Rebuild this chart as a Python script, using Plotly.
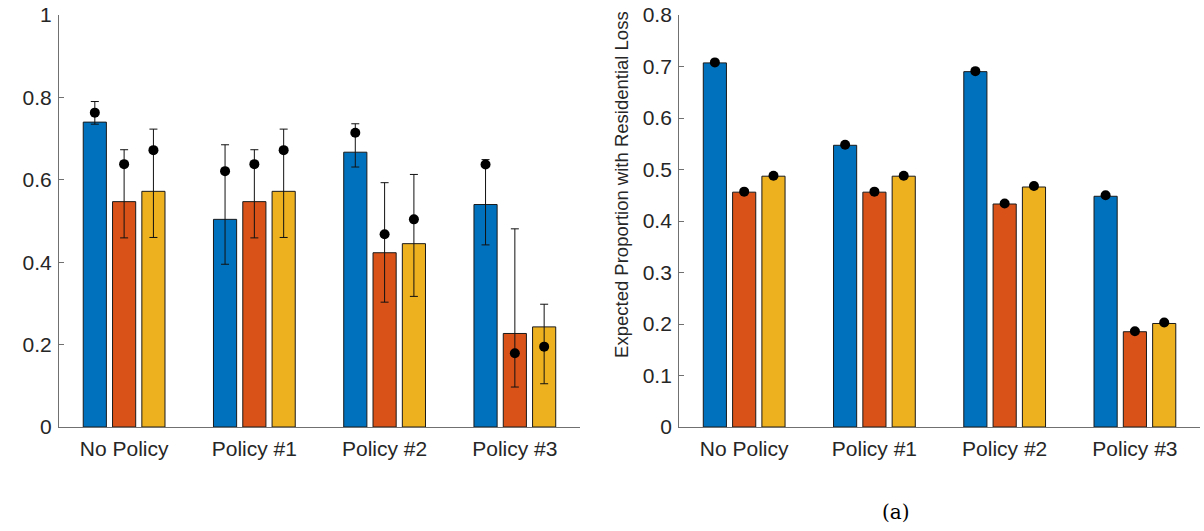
import plotly.graph_objects as go

categories = ["No Policy", "Policy #1", "Policy #2", "Policy #3"]
colors = ["#0072BD", "#D95319", "#EDB120"]

# Left panel: bar heights, dot estimates, error bar upper/lower limits
left_bar_blue = [0.740, 0.504, 0.667, 0.540]
left_bar_orange = [0.547, 0.547, 0.423, 0.227]
left_bar_yellow = [0.572, 0.572, 0.445, 0.243]

left_dot_blue = [0.763, 0.621, 0.714, 0.637]
left_dot_orange = [0.638, 0.638, 0.468, 0.179]
left_dot_yellow = [0.672, 0.672, 0.504, 0.195]

left_hi_blue = [0.790, 0.685, 0.736, 0.649]
left_hi_orange = [0.673, 0.673, 0.593, 0.481]
left_hi_yellow = [0.723, 0.723, 0.613, 0.298]

left_lo_blue = [0.735, 0.395, 0.631, 0.442]
left_lo_orange = [0.459, 0.459, 0.303, 0.097]
left_lo_yellow = [0.460, 0.460, 0.317, 0.105]

# Right panel
right_bar_blue = [0.707, 0.547, 0.690, 0.448]
right_bar_orange = [0.456, 0.456, 0.433, 0.185]
right_bar_yellow = [0.487, 0.487, 0.466, 0.201]

right_dot_blue = [0.708, 0.548, 0.691, 0.450]
right_dot_orange = [0.457, 0.457, 0.434, 0.186]
right_dot_yellow = [0.488, 0.488, 0.468, 0.203]

right_err = [0.003, 0.003, 0.003, 0.003]

left_ticks = [0, 0.2, 0.4, 0.6, 0.8, 1]
left_ticktext = ["0", "0.2", "0.4", "0.6", "0.8", "1"]
right_ticks = [0, 0.1, 0.2, 0.3, 0.4, 0.5, 0.6, 0.7, 0.8]
right_ticktext = ["0", "0.1", "0.2", "0.3", "0.4", "0.5", "0.6", "0.7", "0.8"]

y_title = "Expected Proportion with Residential Loss"
panel_label = "(a)"

FONT = "Liberation Sans, Arial, sans-serif"
TXT = "#262626"
AX = "#707070"

fig = go.Figure()

left_bars = [left_bar_blue, left_bar_orange, left_bar_yellow]
left_dots = [left_dot_blue, left_dot_orange, left_dot_yellow]
left_his = [left_hi_blue, left_hi_orange, left_hi_yellow]
left_los = [left_lo_blue, left_lo_orange, left_lo_yellow]

for i in range(3):
    fig.add_trace(go.Bar(
        x=categories, y=left_bars[i], marker=dict(color=colors[i], line=dict(color="#1a1a1a", width=1)),
        offsetgroup=str(i), xaxis="x", yaxis="y", showlegend=False))
for i in range(3):
    up = [h - d for h, d in zip(left_his[i], left_dots[i])]
    dn = [d - l for d, l in zip(left_dots[i], left_los[i])]
    fig.add_trace(go.Scatter(
        x=categories, y=left_dots[i], mode="markers", offsetgroup=str(i),
        marker=dict(color="black", size=10),
        error_y=dict(type="data", array=up, arrayminus=dn, symmetric=False,
                     color="#111111", thickness=1, width=4),
        xaxis="x", yaxis="y", showlegend=False))

right_bars = [right_bar_blue, right_bar_orange, right_bar_yellow]
right_dots = [right_dot_blue, right_dot_orange, right_dot_yellow]
for i in range(3):
    fig.add_trace(go.Bar(
        x=categories, y=right_bars[i], marker=dict(color=colors[i], line=dict(color="#1a1a1a", width=1)),
        offsetgroup=str(i), xaxis="x2", yaxis="y2", showlegend=False))
for i in range(3):
    fig.add_trace(go.Scatter(
        x=categories, y=right_dots[i], mode="markers", offsetgroup=str(i),
        marker=dict(color="black", size=10),
        error_y=dict(type="data", array=right_err, color="#111111", thickness=1, width=4),
        xaxis="x2", yaxis="y2", showlegend=False))

xcommon = dict(type="category", range=[-0.5, 3.5], showline=True, linecolor=AX, linewidth=1,
               ticks="", showgrid=False, zeroline=False, tickfont=dict(family=FONT, size=21, color=TXT),
               automargin=False, ticklabelstandoff=3)
ycommon = dict(showline=True, linecolor=AX, linewidth=1, ticks="inside", ticklen=5, tickcolor=AX,
               showgrid=False, zeroline=False, tickfont=dict(family=FONT, size=21, color=TXT),
               automargin=False, ticklabelstandoff=2)

fig.update_layout(
    width=1204, height=531,
    margin=dict(l=0, r=0, t=15, b=104),
    paper_bgcolor="white", plot_bgcolor="white",
    barmode="group", bargap=0.325, bargroupgap=0.21,
    scattermode="group", scattergap=0.325,
    xaxis=dict(domain=[0.049, 0.4817], anchor="y", **xcommon),
    yaxis=dict(range=[0, 1], anchor="x", tickvals=left_ticks, ticktext=left_ticktext, **ycommon),
    xaxis2=dict(domain=[0.564, 0.9967], anchor="y2", **xcommon),
    yaxis2=dict(range=[0, 0.8], anchor="x2", tickvals=right_ticks, ticktext=right_ticktext, **ycommon),
    showlegend=False,
)

# right-panel y-axis title (placed as in the reference, slightly above the axis middle)
fig.add_annotation(text=y_title, xref="paper", yref="paper", x=0.5166, y=0.59, textangle=-90,
                   showarrow=False, font=dict(family=FONT, size=18.5, color=TXT),
                   xanchor="center", yanchor="middle")

fig.add_annotation(text=panel_label, xref="paper", yref="paper", x=0.744, y=-0.206,
                   showarrow=False, font=dict(family="DejaVu Serif, serif", size=20, color="black"),
                   xanchor="center", yanchor="middle")

fig.write_html("out.html", config={"displayModeBar": False},
               post_script="document.body.style.margin='0';document.body.style.overflow='hidden';")
